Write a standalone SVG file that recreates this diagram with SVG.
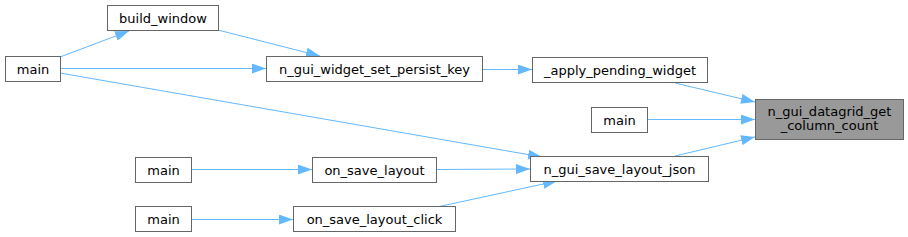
<svg xmlns="http://www.w3.org/2000/svg" width="908" height="237" viewBox="0 0 908 237">
<defs>
<marker id="ah" markerUnits="userSpaceOnUse" markerWidth="14" markerHeight="10" refX="14" refY="5" orient="auto">
<path d="M0,0 L14,5 L0,10 z" fill="#63b8ff"/>
</marker>
<style>
.n rect{fill:#ffffff;stroke:#666666;stroke-width:1}
.n.t rect{fill:#999999}
.n text{font-family:"DejaVu Sans",sans-serif;font-size:13px;fill:#000000;text-anchor:middle}
.e path{fill:none;stroke:#63b8ff;stroke-width:1;marker-end:url(#ah)}
</style>
</defs>
<rect width="908" height="237" fill="#ffffff"/>
<g class="e" id="edges">
<path d="M60,57 L129,31"/>
<path d="M218,30 L320,56"/>
<path d="M60,68.5 L266,68.5"/>
<path d="M60,73 L542,157"/>
<path d="M482,69.5 L532,69.5"/>
<path d="M675,83 L755,102"/>
<path d="M647,119.5 L755,119.5"/>
<path d="M675,156 L755,137"/>
<path d="M191,169.5 L312,169.5"/>
<path d="M436,169.5 L530,169"/>
<path d="M191,219.5 L293,219.5"/>
<path d="M437,207 L557,181"/>
</g>
<g class="n" id="build_window"><rect x="107.5" y="5.5" width="111" height="25"/><text x="163" y="22.5">build_window</text></g>
<g class="n" id="main1"><rect x="5.5" y="56.5" width="55" height="25"/><text x="33" y="73.5">main</text></g>
<g class="n" id="persist_key"><rect x="266.5" y="56.5" width="216" height="25"/><text x="374.5" y="73.5">n_gui_widget_set_persist_key</text></g>
<g class="n" id="apply_pending"><rect x="532.5" y="57.5" width="175" height="25"/><text x="620" y="74.5">_apply_pending_widget</text></g>
<g class="n t" id="target"><rect x="755.5" y="99.5" width="148" height="40"/><text x="829.5" y="115.5">n_gui_datagrid_get</text><text x="829.5" y="129.5">_column_count</text></g>
<g class="n" id="main2"><rect x="591.5" y="107.5" width="56" height="25"/><text x="619.5" y="124.5">main</text></g>
<g class="n" id="save_json"><rect x="530.5" y="156.5" width="178" height="25"/><text x="619.5" y="173.5">n_gui_save_layout_json</text></g>
<g class="n" id="main3"><rect x="135.5" y="157.5" width="56" height="25"/><text x="163.5" y="174.5">main</text></g>
<g class="n" id="on_save_layout"><rect x="312.5" y="157.5" width="124" height="25"/><text x="374.5" y="174.5">on_save_layout</text></g>
<g class="n" id="main4"><rect x="135.5" y="206.5" width="56" height="25"/><text x="163.5" y="223.5">main</text></g>
<g class="n" id="on_save_click"><rect x="293.5" y="206.5" width="162" height="25"/><text x="374.5" y="223.5">on_save_layout_click</text></g>
</svg>
